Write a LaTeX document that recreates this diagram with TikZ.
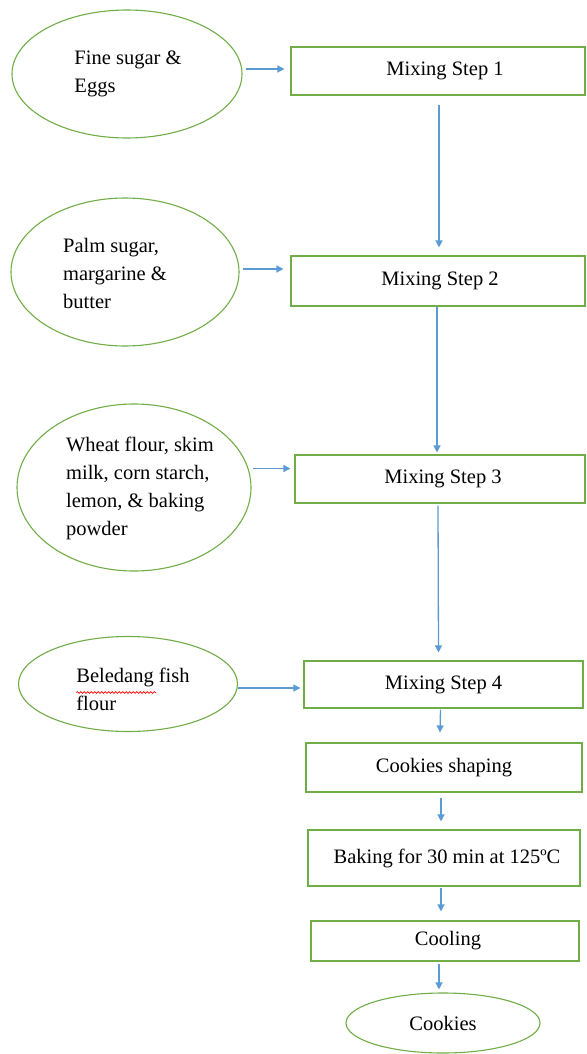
\documentclass[tikz,border=0pt]{standalone}
\usepackage{fontspec}
\setmainfont{Liberation Serif}
\usetikzlibrary{shapes.geometric,arrows.meta,decorations.pathmorphing,calc}
\definecolor{grn}{HTML}{70AD47}
\definecolor{blu}{HTML}{5B9BD5}
\begin{document}
\begin{tikzpicture}[x=1pt,y=-1pt,
  font=\fontsize{20.5}{28}\selectfont,
  ell/.style={ellipse,draw=grn,line width=1.1pt,inner sep=0pt},
  txt/.style={align=left,inner sep=0pt},
  box/.style={rectangle,draw=grn,line width=1.1pt,inner sep=0pt},
  arr/.style={draw=blu,line width=1.3pt,-{Triangle[width=7pt,length=7pt]}}]
\useasboundingbox (0,0) rectangle (586,1054);
% inputs
\node[ell,minimum width=230,minimum height=128] (e1) at (127,74) {};
\node[txt] (t1) at ($(e1)+(1,0)$) {\fontsize{20.5}{30}\selectfont Fine sugar \&\\Eggs};
\node[ell,minimum width=228,minimum height=148] (e2) at (125,272) {};
\node[txt] (t2) at ($(e2)+(-10,1)$) {Palm sugar,\\margarine \&\\butter};
\node[ell,minimum width=234,minimum height=167] (e3) at (134,487.5) {};
\node[txt] (t3) at ($(e3)+(6,1)$) {Wheat flour, skim\\milk, corn starch,\\lemon, \& baking\\powder};
\node[ell,minimum width=219,minimum height=95] (e4) at (128,684) {};
\node[txt] (t4) at ($(e4)+(5,5)$) {Beledang fish\\flour};
% steps
\node[box,minimum width=294,minimum height=48] (b1) at (438,71) {\hspace{14pt}Mixing Step 1};
\node[box,minimum width=294,minimum height=50] (b2) at (438,281) {\hspace{4pt}Mixing Step 2};
\node[box,minimum width=290,minimum height=48] (b3) at (440,479) {\hspace{6pt}Mixing Step 3};
\node[box,minimum width=279,minimum height=47] (b4) at (443.5,684.5) {Mixing Step 4};
\node[box,minimum width=276,minimum height=49] (b5) at (444,767.5) {Cookies shaping};
\node[box,minimum width=272,minimum height=56] (b6) at (444,858) {\hspace{6pt}Baking for 30 min at 125ºC};
\node[box,minimum width=268,minimum height=40] (b7) at (445,941) {\hspace{6pt}Cooling};
\node[ell,minimum width=194,minimum height=60] (e5) at (443,1023) {Cookies};
% spell-check squiggle under "Beledang"
\coordinate (sq1) at ($(t4.north west)+(0,25)$);
\coordinate (sq2) at ($(t4.north west)+(80,25)$);
\draw[red,line width=0.6pt,decorate,decoration={snake,segment length=3.5pt,amplitude=0.9pt}] (sq1) -- (sq2);
% horizontal arrows
\draw[arr] ([xshift=3pt,yshift=5pt]e1.east) -- ([xshift=-6pt,yshift=5pt]e1.east -| b1.west);
\draw[arr] ([xshift=3pt,yshift=3pt]e2.east) -- ([xshift=-7pt,yshift=3pt]e2.east -| b2.west);
\draw[arr] ([xshift=1pt,yshift=19pt]e3.east) -- ([xshift=-4pt,yshift=19pt]e3.east -| b3.west);
\draw[arr] ([xshift=0pt,yshift=-4pt]e4.east) -- ([xshift=-3pt,yshift=-4pt]e4.east -| b4.west);
% vertical arrows
\draw[arr] ([xshift=1pt,yshift=-9pt]b1.south) -- ([xshift=1pt,yshift=8pt]b2.north);
\draw[arr] ([xshift=-1pt,yshift=0pt]b2.south) -- ([xshift=-3pt,yshift=2pt]b3.north);
\draw[arr] ([xshift=-2pt,yshift=-2pt]b3.south) -- ([xshift=-5pt,yshift=8pt]b4.north);
\draw[arr] ([xshift=-3pt,yshift=-1pt]b4.south) -- ([xshift=-4pt,yshift=10pt]b5.north);
\draw[arr] ([xshift=-3pt,yshift=-5pt]b5.south) -- ([xshift=-3pt,yshift=8pt]b6.north);
\draw[arr] ([xshift=-3pt,yshift=-1pt]b6.south) -- ([xshift=-4pt,yshift=9pt]b7.north);
\draw[arr] ([xshift=-6pt,yshift=-2pt]b7.south) -- ([xshift=-4pt,yshift=3pt]e5.north);
\end{tikzpicture}
\end{document}
